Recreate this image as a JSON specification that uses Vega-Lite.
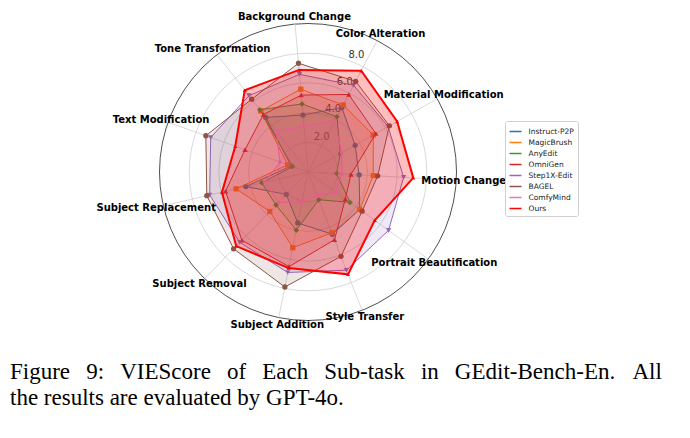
{
  "$schema": "https://vega.github.io/schema/vega-lite/v6.json",
  "width": 297,
  "height": 297,
  "autosize": "none",
  "padding": {"left": 159.5, "top": 23.5, "right": 233.5, "bottom": 117.5},
  "background": "white",
  "config": {"view": {"stroke": null}, "font": "DejaVu Sans"},
  "title": {
    "text": ["Figure\u00a0\u00a0\u20099:\u00a0\u00a0\u2009VIEScore\u00a0\u00a0\u2009of\u00a0\u00a0\u2009Each\u00a0\u00a0\u2009Sub-task\u00a0\u00a0\u2009in\u00a0\u00a0\u2009GEdit-Bench-En.\u00a0\u00a0\u00a0All", "the results are evaluated by GPT-4o."],
    "orient": "bottom",
    "anchor": "start",
    "align": "left",
    "frame": "group",
    "font": "Liberation Serif",
    "fontSize": 23,
    "fontWeight": "normal",
    "color": "#000000",
    "lineHeight": 26,
    "baseline": "top",
    "dx": -149.5,
    "offset": 31
  },
  "datasets": {
    "tasks": [
      {"task": "Background Change"}, {"task": "Color Alteration"}, {"task": "Material Modification"},
      {"task": "Motion Change"}, {"task": "Portrait Beautification"}, {"task": "Style Transfer"},
      {"task": "Subject Addition"}, {"task": "Subject Removal"}, {"task": "Subject Replacement"},
      {"task": "Text Modification"}, {"task": "Tone Transformation"}
    ],
    "rings": [
      {"r": 2, "label": "2.0"}, {"r": 4, "label": "4.0"}, {"r": 6, "label": "6.0"}, {"r": 8, "label": "8.0"}, {"r": 10, "label": ""}
    ],
    "scores": [
      {"model": "Instruct-P2P", "task": "Background Change", "value": 3.85},
      {"model": "Instruct-P2P", "task": "Color Alteration", "value": 4.9},
      {"model": "Instruct-P2P", "task": "Material Modification", "value": 3.65},
      {"model": "Instruct-P2P", "task": "Motion Change", "value": 3.45},
      {"model": "Instruct-P2P", "task": "Portrait Beautification", "value": 4.3},
      {"model": "Instruct-P2P", "task": "Style Transfer", "value": 4.5},
      {"model": "Instruct-P2P", "task": "Subject Addition", "value": 3.5},
      {"model": "Instruct-P2P", "task": "Subject Removal", "value": 2.1},
      {"model": "Instruct-P2P", "task": "Subject Replacement", "value": 4.3},
      {"model": "Instruct-P2P", "task": "Text Modification", "value": 1.2},
      {"model": "Instruct-P2P", "task": "Tone Transformation", "value": 4.65},
      {"model": "MagicBrush", "task": "Background Change", "value": 5.6},
      {"model": "MagicBrush", "task": "Color Alteration", "value": 5.1},
      {"model": "MagicBrush", "task": "Material Modification", "value": 5.05},
      {"model": "MagicBrush", "task": "Motion Change", "value": 4.4},
      {"model": "MagicBrush", "task": "Portrait Beautification", "value": 4.3},
      {"model": "MagicBrush", "task": "Style Transfer", "value": 4.4},
      {"model": "MagicBrush", "task": "Subject Addition", "value": 5.2},
      {"model": "MagicBrush", "task": "Subject Removal", "value": 3.7},
      {"model": "MagicBrush", "task": "Subject Replacement", "value": 4.97},
      {"model": "MagicBrush", "task": "Text Modification", "value": 1.45},
      {"model": "MagicBrush", "task": "Tone Transformation", "value": 5.2},
      {"model": "AnyEdit", "task": "Background Change", "value": 4.6},
      {"model": "AnyEdit", "task": "Color Alteration", "value": 4.2},
      {"model": "AnyEdit", "task": "Material Modification", "value": 2.5},
      {"model": "AnyEdit", "task": "Motion Change", "value": 1.93},
      {"model": "AnyEdit", "task": "Portrait Beautification", "value": 3.5},
      {"model": "AnyEdit", "task": "Style Transfer", "value": 2.0},
      {"model": "AnyEdit", "task": "Subject Addition", "value": 4.0},
      {"model": "AnyEdit", "task": "Subject Removal", "value": 3.1},
      {"model": "AnyEdit", "task": "Subject Replacement", "value": 3.2},
      {"model": "AnyEdit", "task": "Text Modification", "value": 1.1},
      {"model": "AnyEdit", "task": "Tone Transformation", "value": 5.3},
      {"model": "OmniGen", "task": "Background Change", "value": 5.2},
      {"model": "OmniGen", "task": "Color Alteration", "value": 5.9},
      {"model": "OmniGen", "task": "Material Modification", "value": 5.25},
      {"model": "OmniGen", "task": "Motion Change", "value": 2.9},
      {"model": "OmniGen", "task": "Portrait Beautification", "value": 3.1},
      {"model": "OmniGen", "task": "Style Transfer", "value": 4.9},
      {"model": "OmniGen", "task": "Subject Addition", "value": 6.5},
      {"model": "OmniGen", "task": "Subject Removal", "value": 6.4},
      {"model": "OmniGen", "task": "Subject Replacement", "value": 5.7},
      {"model": "OmniGen", "task": "Text Modification", "value": 4.5},
      {"model": "OmniGen", "task": "Tone Transformation", "value": 4.9},
      {"model": "Step1X-Edit", "task": "Background Change", "value": 6.6},
      {"model": "Step1X-Edit", "task": "Color Alteration", "value": 6.6},
      {"model": "Step1X-Edit", "task": "Material Modification", "value": 6.2},
      {"model": "Step1X-Edit", "task": "Motion Change", "value": 6.45},
      {"model": "Step1X-Edit", "task": "Portrait Beautification", "value": 6.7},
      {"model": "Step1X-Edit", "task": "Style Transfer", "value": 7.1},
      {"model": "Step1X-Edit", "task": "Subject Addition", "value": 6.9},
      {"model": "Step1X-Edit", "task": "Subject Removal", "value": 6.6},
      {"model": "Step1X-Edit", "task": "Subject Replacement", "value": 6.8},
      {"model": "Step1X-Edit", "task": "Text Modification", "value": 6.95},
      {"model": "Step1X-Edit", "task": "Tone Transformation", "value": 6.5},
      {"model": "BAGEL", "task": "Background Change", "value": 7.35},
      {"model": "BAGEL", "task": "Color Alteration", "value": 6.9},
      {"model": "BAGEL", "task": "Material Modification", "value": 6.3},
      {"model": "BAGEL", "task": "Motion Change", "value": 4.7},
      {"model": "BAGEL", "task": "Portrait Beautification", "value": 4.5},
      {"model": "BAGEL", "task": "Style Transfer", "value": 6.1},
      {"model": "BAGEL", "task": "Subject Addition", "value": 7.9},
      {"model": "BAGEL", "task": "Subject Removal", "value": 7.2},
      {"model": "BAGEL", "task": "Subject Replacement", "value": 7.0},
      {"model": "BAGEL", "task": "Text Modification", "value": 7.3},
      {"model": "BAGEL", "task": "Tone Transformation", "value": 6.2},
      {"model": "ComfyMind", "task": "Background Change", "value": 3.1},
      {"model": "ComfyMind", "task": "Color Alteration", "value": 3.9},
      {"model": "ComfyMind", "task": "Material Modification", "value": 2.6},
      {"model": "ComfyMind", "task": "Motion Change", "value": 2.3},
      {"model": "ComfyMind", "task": "Portrait Beautification", "value": 2.3},
      {"model": "ComfyMind", "task": "Style Transfer", "value": 1.7},
      {"model": "ComfyMind", "task": "Subject Addition", "value": 2.05},
      {"model": "ComfyMind", "task": "Subject Removal", "value": 2.85},
      {"model": "ComfyMind", "task": "Subject Replacement", "value": 3.0},
      {"model": "ComfyMind", "task": "Text Modification", "value": 2.0},
      {"model": "ComfyMind", "task": "Tone Transformation", "value": 3.5},
      {"model": "Ours", "task": "Background Change", "value": 6.9},
      {"model": "Ours", "task": "Color Alteration", "value": 7.7},
      {"model": "Ours", "task": "Material Modification", "value": 6.9},
      {"model": "Ours", "task": "Motion Change", "value": 7.1},
      {"model": "Ours", "task": "Portrait Beautification", "value": 5.55},
      {"model": "Ours", "task": "Style Transfer", "value": 7.4},
      {"model": "Ours", "task": "Subject Addition", "value": 6.6},
      {"model": "Ours", "task": "Subject Removal", "value": 6.95},
      {"model": "Ours", "task": "Subject Replacement", "value": 5.95},
      {"model": "Ours", "task": "Text Modification", "value": 5.2},
      {"model": "Ours", "task": "Tone Transformation", "value": 6.96}
    ]
  },
  "layer": [
    {
      "data": {"name": "rings"},
      "transform": [{"calculate": "0", "as": "zero"}],
      "mark": {"type": "point", "shape": "circle", "filled": false, "strokeWidth": 0.8, "opacity": 1},
      "encoding": {
        "x": {"field": "zero", "type": "quantitative", "scale": {"domain": [-10, 10]}, "axis": null},
        "y": {"field": "zero", "type": "quantitative", "scale": {"domain": [-10, 10]}, "axis": null},
        "size": {"field": "r", "type": "quantitative", "scale": {"type": "pow", "exponent": 2, "domain": [0, 10], "range": [0, 88209], "zero": true}, "legend": null},
        "stroke": {"condition": {"test": "datum.r == 10", "value": "#222222"}, "value": "#cfcfcf"}
      }
    },
    {
      "data": {"name": "tasks"},
      "transform": [
        {"calculate": "indexof(['Background Change','Color Alteration','Material Modification','Motion Change','Portrait Beautification','Style Transfer','Subject Addition','Subject Removal','Subject Replacement','Text Modification','Tone Transformation'], datum.task)", "as": "idx"},
        {"calculate": "(datum.idx*360/11 - 5)*PI/180", "as": "ang"},
        {"calculate": "10*sin(datum.ang)", "as": "sx"},
        {"calculate": "10*cos(datum.ang)", "as": "sy"},
        {"calculate": "0", "as": "zero"}
      ],
      "mark": {"type": "rule", "color": "#cfcfcf", "strokeWidth": 0.8},
      "encoding": {
        "x": {"field": "zero", "type": "quantitative", "scale": {"domain": [-10, 10]}, "axis": null},
        "y": {"field": "zero", "type": "quantitative", "scale": {"domain": [-10, 10]}, "axis": null},
        "x2": {"field": "sx"},
        "y2": {"field": "sy"}
      }
    },
    {
      "data": {"name": "rings"},
      "transform": [
        {"filter": "datum.r < 10"},
        {"calculate": "datum.r*sin(23*PI/180)", "as": "lx"},
        {"calculate": "datum.r*cos(23*PI/180)", "as": "ly"}
      ],
      "mark": {"type": "text", "font": "DejaVu Sans", "fontSize": 10, "color": "#333333", "align": "center", "baseline": "middle", "dy": -8, "dx": 2},
      "encoding": {
        "x": {"field": "lx", "type": "quantitative", "scale": {"domain": [-10, 10]}, "axis": null},
        "y": {"field": "ly", "type": "quantitative", "scale": {"domain": [-10, 10]}, "axis": null},
        "text": {"field": "label"}
      }
    },
    {
      "data": {"name": "scores"},
      "transform": [
        {"calculate": "indexof(['Background Change','Color Alteration','Material Modification','Motion Change','Portrait Beautification','Style Transfer','Subject Addition','Subject Removal','Subject Replacement','Text Modification','Tone Transformation'], datum.task)", "as": "idx"},
        {"calculate": "(datum.idx*360/11 - 5)*PI/180", "as": "ang"},
        {"calculate": "datum.value*sin(datum.ang)", "as": "px"},
        {"calculate": "datum.value*cos(datum.ang)", "as": "py"}
      ],
      "encoding": {
        "x": {"field": "px", "type": "quantitative", "scale": {"domain": [-10, 10]}, "axis": null},
        "y": {"field": "py", "type": "quantitative", "scale": {"domain": [-10, 10]}, "axis": null}
      },
      "layer": [
        {
          "transform": [{"filter": "datum.model === 'Instruct-P2P'"}],
          "layer": [
            {"mark": {"type": "line", "interpolate": "linear-closed", "strokeWidth": 1},
             "encoding": {"order": {"field": "idx", "type": "quantitative"},
               "stroke": {"field": "model", "type": "nominal", "scale": {"domain": ["Instruct-P2P","MagicBrush","AnyEdit","OmniGen","Step1X-Edit","BAGEL","ComfyMind","Ours"], "range": ["#1f77b4","#ff7f0e","#2ca02c","#d62728","#9467bd","#8c564b","#e377c2","#ff0000"]}, "legend": {"title": null, "orient": "none", "legendX": 345.5, "legendY": 97.5, "symbolType": "stroke", "symbolStrokeWidth": 1.5, "symbolSize": 144, "rowPadding": -0.2, "labelFont": "DejaVu Sans", "labelFontSize": 7.5, "labelColor": "#222222", "labelOffset": 6, "padding": 3.5, "strokeColor": "#d0d0d0", "fillColor": "#ffffff", "cornerRadius": 2}}}},
            {"mark": {"type": "point", "filled": true, "shape": "circle", "fill": "#1f77b4", "size": 28, "opacity": 1, "strokeWidth": 0}, "encoding": {}},
            {"mark": {"type": "line", "interpolate": "linear-closed", "stroke": null, "strokeOpacity": 0, "fill": "#1f77b4", "fillOpacity": 0.15},
             "encoding": {"order": {"field": "idx", "type": "quantitative"}}}
          ]
        },
        {
          "transform": [{"filter": "datum.model === 'MagicBrush'"}],
          "layer": [
            {"mark": {"type": "line", "interpolate": "linear-closed", "strokeWidth": 1},
             "encoding": {"order": {"field": "idx", "type": "quantitative"},
               "stroke": {"field": "model", "type": "nominal", "scale": {"domain": ["Instruct-P2P","MagicBrush","AnyEdit","OmniGen","Step1X-Edit","BAGEL","ComfyMind","Ours"], "range": ["#1f77b4","#ff7f0e","#2ca02c","#d62728","#9467bd","#8c564b","#e377c2","#ff0000"]}, "legend": {"title": null, "orient": "none", "legendX": 345.5, "legendY": 97.5, "symbolType": "stroke", "symbolStrokeWidth": 1.5, "symbolSize": 144, "rowPadding": -0.2, "labelFont": "DejaVu Sans", "labelFontSize": 7.5, "labelColor": "#222222", "labelOffset": 6, "padding": 3.5, "strokeColor": "#d0d0d0", "fillColor": "#ffffff", "cornerRadius": 2}}}},
            {"mark": {"type": "point", "filled": true, "shape": "square", "fill": "#ff7f0e", "size": 28, "opacity": 1, "strokeWidth": 0}, "encoding": {}},
            {"mark": {"type": "line", "interpolate": "linear-closed", "stroke": null, "strokeOpacity": 0, "fill": "#ff7f0e", "fillOpacity": 0.15},
             "encoding": {"order": {"field": "idx", "type": "quantitative"}}}
          ]
        },
        {
          "transform": [{"filter": "datum.model === 'AnyEdit'"}],
          "layer": [
            {"mark": {"type": "line", "interpolate": "linear-closed", "strokeWidth": 1},
             "encoding": {"order": {"field": "idx", "type": "quantitative"},
               "stroke": {"field": "model", "type": "nominal", "scale": {"domain": ["Instruct-P2P","MagicBrush","AnyEdit","OmniGen","Step1X-Edit","BAGEL","ComfyMind","Ours"], "range": ["#1f77b4","#ff7f0e","#2ca02c","#d62728","#9467bd","#8c564b","#e377c2","#ff0000"]}, "legend": {"title": null, "orient": "none", "legendX": 345.5, "legendY": 97.5, "symbolType": "stroke", "symbolStrokeWidth": 1.5, "symbolSize": 144, "rowPadding": -0.2, "labelFont": "DejaVu Sans", "labelFontSize": 7.5, "labelColor": "#222222", "labelOffset": 6, "padding": 3.5, "strokeColor": "#d0d0d0", "fillColor": "#ffffff", "cornerRadius": 2}}}},
            {"mark": {"type": "point", "filled": true, "shape": "diamond", "fill": "#2ca02c", "size": 30, "opacity": 1, "strokeWidth": 0}, "encoding": {}},
            {"mark": {"type": "line", "interpolate": "linear-closed", "stroke": null, "strokeOpacity": 0, "fill": "#2ca02c", "fillOpacity": 0.15},
             "encoding": {"order": {"field": "idx", "type": "quantitative"}}}
          ]
        },
        {
          "transform": [{"filter": "datum.model === 'OmniGen'"}],
          "layer": [
            {"mark": {"type": "line", "interpolate": "linear-closed", "strokeWidth": 1},
             "encoding": {"order": {"field": "idx", "type": "quantitative"},
               "stroke": {"field": "model", "type": "nominal", "scale": {"domain": ["Instruct-P2P","MagicBrush","AnyEdit","OmniGen","Step1X-Edit","BAGEL","ComfyMind","Ours"], "range": ["#1f77b4","#ff7f0e","#2ca02c","#d62728","#9467bd","#8c564b","#e377c2","#ff0000"]}, "legend": {"title": null, "orient": "none", "legendX": 345.5, "legendY": 97.5, "symbolType": "stroke", "symbolStrokeWidth": 1.5, "symbolSize": 144, "rowPadding": -0.2, "labelFont": "DejaVu Sans", "labelFontSize": 7.5, "labelColor": "#222222", "labelOffset": 6, "padding": 3.5, "strokeColor": "#d0d0d0", "fillColor": "#ffffff", "cornerRadius": 2}}}},
            {"mark": {"type": "point", "filled": true, "shape": "triangle-up", "fill": "#d62728", "size": 28, "opacity": 1, "strokeWidth": 0}, "encoding": {}},
            {"mark": {"type": "line", "interpolate": "linear-closed", "stroke": null, "strokeOpacity": 0, "fill": "#d62728", "fillOpacity": 0.15},
             "encoding": {"order": {"field": "idx", "type": "quantitative"}}}
          ]
        },
        {
          "transform": [{"filter": "datum.model === 'Step1X-Edit'"}],
          "layer": [
            {"mark": {"type": "line", "interpolate": "linear-closed", "strokeWidth": 1},
             "encoding": {"order": {"field": "idx", "type": "quantitative"},
               "stroke": {"field": "model", "type": "nominal", "scale": {"domain": ["Instruct-P2P","MagicBrush","AnyEdit","OmniGen","Step1X-Edit","BAGEL","ComfyMind","Ours"], "range": ["#1f77b4","#ff7f0e","#2ca02c","#d62728","#9467bd","#8c564b","#e377c2","#ff0000"]}, "legend": {"title": null, "orient": "none", "legendX": 345.5, "legendY": 97.5, "symbolType": "stroke", "symbolStrokeWidth": 1.5, "symbolSize": 144, "rowPadding": -0.2, "labelFont": "DejaVu Sans", "labelFontSize": 7.5, "labelColor": "#222222", "labelOffset": 6, "padding": 3.5, "strokeColor": "#d0d0d0", "fillColor": "#ffffff", "cornerRadius": 2}}}},
            {"mark": {"type": "point", "filled": true, "shape": "triangle-down", "fill": "#9467bd", "size": 28, "opacity": 1, "strokeWidth": 0}, "encoding": {}},
            {"mark": {"type": "line", "interpolate": "linear-closed", "stroke": null, "strokeOpacity": 0, "fill": "#9467bd", "fillOpacity": 0.15},
             "encoding": {"order": {"field": "idx", "type": "quantitative"}}}
          ]
        },
        {
          "transform": [{"filter": "datum.model === 'BAGEL'"}],
          "layer": [
            {"mark": {"type": "line", "interpolate": "linear-closed", "strokeWidth": 1},
             "encoding": {"order": {"field": "idx", "type": "quantitative"},
               "stroke": {"field": "model", "type": "nominal", "scale": {"domain": ["Instruct-P2P","MagicBrush","AnyEdit","OmniGen","Step1X-Edit","BAGEL","ComfyMind","Ours"], "range": ["#1f77b4","#ff7f0e","#2ca02c","#d62728","#9467bd","#8c564b","#e377c2","#ff0000"]}, "legend": {"title": null, "orient": "none", "legendX": 345.5, "legendY": 97.5, "symbolType": "stroke", "symbolStrokeWidth": 1.5, "symbolSize": 144, "rowPadding": -0.2, "labelFont": "DejaVu Sans", "labelFontSize": 7.5, "labelColor": "#222222", "labelOffset": 6, "padding": 3.5, "strokeColor": "#d0d0d0", "fillColor": "#ffffff", "cornerRadius": 2}}}},
            {"mark": {"type": "point", "filled": true, "shape": "circle", "fill": "#8c564b", "size": 28, "opacity": 1, "strokeWidth": 0}, "encoding": {}},
            {"mark": {"type": "line", "interpolate": "linear-closed", "stroke": null, "strokeOpacity": 0, "fill": "#8c564b", "fillOpacity": 0.15},
             "encoding": {"order": {"field": "idx", "type": "quantitative"}}}
          ]
        },
        {
          "transform": [{"filter": "datum.model === 'ComfyMind'"}],
          "layer": [
            {"mark": {"type": "line", "interpolate": "linear-closed", "strokeWidth": 1},
             "encoding": {"order": {"field": "idx", "type": "quantitative"},
               "stroke": {"field": "model", "type": "nominal", "scale": {"domain": ["Instruct-P2P","MagicBrush","AnyEdit","OmniGen","Step1X-Edit","BAGEL","ComfyMind","Ours"], "range": ["#1f77b4","#ff7f0e","#2ca02c","#d62728","#9467bd","#8c564b","#e377c2","#ff0000"]}, "legend": {"title": null, "orient": "none", "legendX": 345.5, "legendY": 97.5, "symbolType": "stroke", "symbolStrokeWidth": 1.5, "symbolSize": 144, "rowPadding": -0.2, "labelFont": "DejaVu Sans", "labelFontSize": 7.5, "labelColor": "#222222", "labelOffset": 6, "padding": 3.5, "strokeColor": "#d0d0d0", "fillColor": "#ffffff", "cornerRadius": 2}}}},
            {"mark": {"type": "point", "filled": true, "shape": "circle", "fill": "#e377c2", "size": 12, "opacity": 1, "strokeWidth": 0}, "encoding": {}},
            {"mark": {"type": "line", "interpolate": "linear-closed", "stroke": null, "strokeOpacity": 0, "fill": "#e377c2", "fillOpacity": 0.15},
             "encoding": {"order": {"field": "idx", "type": "quantitative"}}}
          ]
        },
        {
          "transform": [{"filter": "datum.model === 'Ours'"}],
          "layer": [
            {"mark": {"type": "line", "interpolate": "linear-closed", "strokeWidth": 2},
             "encoding": {"order": {"field": "idx", "type": "quantitative"},
               "stroke": {"field": "model", "type": "nominal", "scale": {"domain": ["Instruct-P2P","MagicBrush","AnyEdit","OmniGen","Step1X-Edit","BAGEL","ComfyMind","Ours"], "range": ["#1f77b4","#ff7f0e","#2ca02c","#d62728","#9467bd","#8c564b","#e377c2","#ff0000"]}, "legend": {"title": null, "orient": "none", "legendX": 345.5, "legendY": 97.5, "symbolType": "stroke", "symbolStrokeWidth": 1.5, "symbolSize": 144, "rowPadding": -0.2, "labelFont": "DejaVu Sans", "labelFontSize": 7.5, "labelColor": "#222222", "labelOffset": 6, "padding": 3.5, "strokeColor": "#d0d0d0", "fillColor": "#ffffff", "cornerRadius": 2}}}},
            {"mark": {"type": "point", "filled": true, "shape": "triangle-up", "fill": "#ff0000", "size": 16, "opacity": 1, "strokeWidth": 0}, "encoding": {}},
            {"mark": {"type": "line", "interpolate": "linear-closed", "stroke": null, "strokeOpacity": 0, "fill": "#ff0000", "fillOpacity": 0.25},
             "encoding": {"order": {"field": "idx", "type": "quantitative"}}}
          ]
        }
      ]
    },
    {
      "data": {"name": "tasks"},
      "transform": [
        {"calculate": "indexof(['Background Change','Color Alteration','Material Modification','Motion Change','Portrait Beautification','Style Transfer','Subject Addition','Subject Removal','Subject Replacement','Text Modification','Tone Transformation'], datum.task)", "as": "idx"},
        {"calculate": "(datum.idx*360/11 - 5)*PI/180", "as": "ang"},
        {"calculate": "10.5*sin(datum.ang)", "as": "lx"},
        {"calculate": "10.5*cos(datum.ang)", "as": "ly"}
      ],
      "mark": {"type": "text", "font": "DejaVu Sans", "fontSize": 10, "fontWeight": "bold", "color": "#000000", "align": "center", "baseline": "middle"},
      "encoding": {
        "x": {"field": "lx", "type": "quantitative", "scale": {"domain": [-10, 10]}, "axis": null},
        "y": {"field": "ly", "type": "quantitative", "scale": {"domain": [-10, 10]}, "axis": null},
        "text": {"field": "task"}
      }
    }
  ]
}
